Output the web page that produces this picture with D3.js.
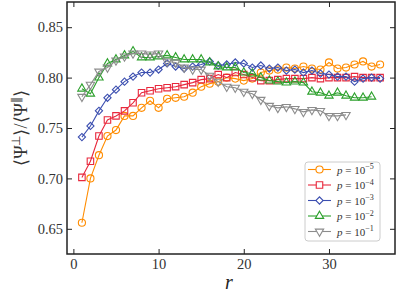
<!DOCTYPE html>
<html>
<head>
<meta charset="utf-8">
<script src="https://cdn.jsdelivr.net/npm/d3@7"></script>
<style>
  body { margin: 0; background: #fff; }
</style>
</head>
<body>
<script>
// r values (distance)
const rValues = [1, 2, 3, 4, 5, 6, 7, 8, 9, 10, 11, 12, 13, 14, 15, 16, 17, 18,
                 19, 20, 21, 22, 23, 24, 25, 26, 27, 28, 29, 30, 31, 32, 33, 34, 35, 36];

// <Psi_perp>/<Psi_par> for each p
const p5 = [0.656, 0.700, 0.723, 0.742, 0.748, 0.762, 0.762, 0.770, 0.777, 0.770, 0.779, 0.780,
            0.781, 0.785, 0.791, 0.794, 0.796, 0.800, 0.799, 0.797, 0.799, 0.805, 0.807, 0.808,
            0.810, 0.809, 0.811, 0.809, 0.808, 0.815, 0.809, 0.810, 0.813, 0.816, 0.811, 0.813];
const p4 = [0.701, 0.717, 0.742, 0.758, 0.762, 0.767, 0.775, 0.785, 0.787, 0.789, 0.790, 0.791,
            0.793, 0.795, 0.798, 0.799, 0.803, 0.800, 0.805, 0.803, 0.800, 0.797, 0.797, 0.798,
            0.799, 0.799, 0.799, 0.800, 0.799, 0.800, 0.800, 0.800, 0.801, 0.800, 0.800, 0.800];
const p3 = [0.741, 0.752, 0.767, 0.780, 0.788, 0.796, 0.801, 0.805, 0.805, 0.808, 0.814, 0.811,
            0.809, 0.811, 0.813, 0.816, 0.812, 0.813, 0.815, 0.814, 0.810, 0.812, 0.809, 0.810,
            0.807, 0.808, 0.805, 0.807, 0.804, 0.803, 0.801, 0.801, 0.796, 0.799, 0.800, 0.799];
const p2 = [0.789, 0.784, 0.800, 0.814, 0.818, 0.822, 0.826, 0.820, 0.820, 0.821, 0.822, 0.820,
            0.818, 0.818, 0.818, 0.815, 0.811, 0.810, 0.810, 0.805, 0.804, 0.800, 0.797, 0.796,
            0.795, 0.796, 0.795, 0.786, 0.785, 0.782, 0.785, 0.782, 0.780, 0.780, 0.781];
const p1 = [0.781, 0.793, 0.806, 0.810, 0.817, 0.821, 0.824, 0.824, 0.823, 0.824, 0.816, 0.815,
            0.810, 0.808, 0.808, 0.802, 0.796, 0.791, 0.790, 0.786, 0.784, 0.778, 0.772, 0.770,
            0.771, 0.769, 0.766, 0.768, 0.767, 0.762, 0.762, 0.763];

const seriesExp = ["-5", "-4", "-3", "-2", "-1"];
const xTicks = [0, 10, 20, 30];
const yTicks = [0.65, 0.70, 0.75, 0.80, 0.85];

const series = [
  {exp: seriesExp[0], values: p5, color: "#ff8c00", shape: "circle"},
  {exp: seriesExp[1], values: p4, color: "#e8283c", shape: "square"},
  {exp: seriesExp[2], values: p3, color: "#3c4fb0", shape: "diamond"},
  {exp: seriesExp[3], values: p2, color: "#2ca02c", shape: "tri-up"},
  {exp: seriesExp[4], values: p1, color: "#8c8c8c", shape: "tri-down"}
];

const FONT = "Liberation Serif";
const W = 399, H = 299;
const plot = {left: 67, right: 395, top: 2, bottom: 254};

const x = d3.scaleLinear().domain([-0.75, 37.75]).range([plot.left, plot.right]);
const y = d3.scaleLinear().domain([0.625, 0.875]).range([plot.bottom, plot.top]);

const svg = d3.select("body").append("svg")
  .attr("width", W).attr("height", H)
  .attr("font-family", FONT);

function marker(sel, shape, color) {
  let sym, size, rot = 0;
  if (shape == "circle") { sym = d3.symbolCircle; size = 40; }
  else if (shape == "square") { sym = d3.symbolSquare; size = 42; }
  else if (shape == "diamond") { sym = d3.symbolSquare; size = 26; rot = 45; }
  else if (shape == "tri-up") { sym = d3.symbolTriangle; size = 30; }
  else { sym = d3.symbolTriangle; size = 30; rot = 180; }
  sel.attr("d", d3.symbol().type(sym).size(size)())
    .attr("fill", "none")
    .attr("stroke", color)
    .attr("stroke-width", 1.1);
  return rot;
}

// series
series.forEach(s => {
  const pts = s.values.map((v, i) => [rValues[i], v]);
  const g = svg.append("g").attr("class", "series");
  g.append("path")
    .datum(pts)
    .attr("fill", "none")
    .attr("stroke", s.color)
    .attr("stroke-width", 1.1)
    .attr("d", d3.line().x(d => x(d[0])).y(d => y(d[1])));
  g.selectAll("path.pt")
    .data(pts)
    .enter().append("path")
    .attr("class", "pt")
    .each(function(d) {
      const rot = marker(d3.select(this), s.shape, s.color);
      d3.select(this).attr("transform",
        "translate(" + x(d[0]) + "," + y(d[1]) + ") rotate(" + rot + ")");
    });
});

// axes, ticks inward on all four sides
const tick = 5;
svg.append("g")
  .attr("transform", "translate(0," + plot.bottom + ")")
  .call(d3.axisBottom(x).tickValues(xTicks).tickSize(-tick).tickPadding(5).tickFormat(d3.format("d")));
svg.append("g")
  .attr("transform", "translate(0," + plot.top + ")")
  .call(d3.axisTop(x).tickValues(xTicks).tickSize(-tick).tickFormat(""));
svg.append("g")
  .attr("transform", "translate(" + plot.left + ",0)")
  .call(d3.axisLeft(y).tickValues(yTicks).tickSize(-tick).tickPadding(4).tickFormat(d3.format(".2f")));
svg.append("g")
  .attr("transform", "translate(" + plot.right + ",0)")
  .call(d3.axisRight(y).tickValues(yTicks).tickSize(-tick).tickFormat(""));

svg.selectAll(".domain").remove();
// d3 axes set their own font; put ours back
svg.selectAll("g").attr("font-family", null);
svg.selectAll(".tick line").attr("stroke", "#222").attr("stroke-width", 1);
svg.selectAll(".tick text")
  .attr("font-family", FONT)
  .attr("font-size", 14.5)
  .attr("fill", "#333");

svg.append("rect")
  .attr("x", plot.left).attr("y", plot.top)
  .attr("width", plot.right - plot.left).attr("height", plot.bottom - plot.top)
  .attr("fill", "none").attr("stroke", "#222").attr("stroke-width", 1.5);

// axis labels
svg.append("text")
  .attr("x", (plot.left + plot.right) / 2 - 2)
  .attr("y", 289)
  .attr("text-anchor", "middle")
  .attr("font-family", FONT)
  .attr("font-size", 20)
  .attr("font-style", "italic")
  .attr("fill", "#222")
  .text("r");

const yl = svg.append("text")
  .attr("transform", "translate(27," + ((plot.top + plot.bottom) / 2) + ") rotate(-90)")
  .attr("text-anchor", "middle")
  .attr("font-family", FONT)
  .attr("font-size", 18)
  .attr("fill", "#333");
yl.append("tspan").text("⟨Ψ");
yl.append("tspan").attr("dy", -7).attr("font-size", 12).text("⊥");
yl.append("tspan").attr("dy", 7).text("⟩/⟨Ψ");
yl.append("tspan").attr("dy", -7).attr("font-size", 12).text("∥");
yl.append("tspan").attr("dy", 7).text("⟩");

// legend
const lg = svg.append("g").attr("transform", "translate(305,162)");
lg.append("rect")
  .attr("width", 75).attr("height", 79).attr("rx", 3)
  .attr("fill", "white").attr("fill-opacity", 0.85)
  .attr("stroke", "#cccccc").attr("stroke-width", 1);

series.forEach((s, i) => {
  const yy = 7.5 + i * 15.5;
  lg.append("line")
    .attr("x1", 3).attr("x2", 26).attr("y1", yy).attr("y2", yy)
    .attr("stroke", s.color).attr("stroke-width", 1.1);
  const m = lg.append("path");
  const rot = marker(m, s.shape, s.color);
  m.attr("fill", "white").attr("transform", "translate(14.5," + yy + ") rotate(" + rot + ")");
  const t = lg.append("text")
    .attr("x", 32).attr("y", yy + 4)
    .attr("font-family", FONT)
    .attr("font-size", 11)
    .attr("fill", "#333");
  t.append("tspan").attr("font-style", "italic").text("p");
  t.append("tspan").text(" = 10");
  t.append("tspan").attr("dy", -4.5).attr("font-size", 8).text(s.exp.replace("-", "−"));
});
</script>
</body>
</html>
